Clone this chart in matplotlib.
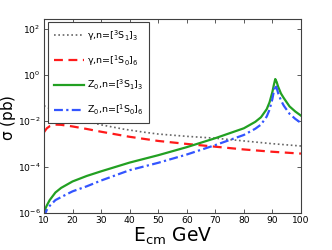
import numpy as np
import matplotlib
matplotlib.use("Agg")
import matplotlib.pyplot as plt

# energies (GeV) and log10(sigma / pb)
e_gam3 = [10, 15, 20, 25, 30, 38, 45, 50, 60, 70, 80, 90, 100]
lg_gam3 = [-1.35, -1.65, -1.86, -2.04, -2.18, -2.37, -2.50, -2.58, -2.68, -2.76, -2.88, -3.00, -3.10]

e_gam1 = [10, 11, 12, 14, 16, 20, 25, 30, 40, 50, 60, 70, 80, 90, 100]
lg_gam1 = [-2.50, -2.33, -2.24, -2.17, -2.18, -2.25, -2.36, -2.48, -2.70, -2.88, -3.01, -3.13, -3.25, -3.35, -3.43]

e_z = [10, 10.5, 11, 12, 14, 16, 20, 25, 30, 40, 50, 60, 70, 80, 84, 86, 88, 89,
       90, 90.5, 91, 91.5, 92, 93, 94, 96, 98, 100]
lg_z3 = [-6.0, -5.82, -5.68, -5.45, -5.12, -4.92, -4.64, -4.40, -4.20, -3.82, -3.50, -3.15, -2.76, -2.33,
         -2.05, -1.85, -1.50, -1.20, -0.75, -0.45, -0.19, -0.32, -0.52, -0.82, -1.02, -1.38, -1.60, -1.78]
lg_z1 = [-6.2, -6.02, -5.87, -5.70, -5.45, -5.32, -5.07, -4.85, -4.60, -4.15, -3.83, -3.47, -3.06, -2.62,
         -2.35, -2.17, -1.82, -1.52, -1.05, -0.72, -0.45, -0.58, -0.80, -1.12, -1.35, -1.70, -1.92, -2.10]

labels = [r'$\gamma$,n=[$^3$S$_1$]$_3$', r'$\gamma$,n=[$^1$S$_0$]$_6$',
          r'Z$_0$,n=[$^3$S$_1$]$_3$', r'Z$_0$,n=[$^1$S$_0$]$_6$']

plt.rcParams['mathtext.default'] = 'regular'
plt.rcParams['font.family'] = ['DejaVu Sans']

fig = plt.figure(figsize=(3.32, 2.5), dpi=100)
ax = fig.add_axes([0.1325, 0.149, 0.774, 0.777])

ax.plot(e_gam3, 10**np.array(lg_gam3), color='#666666', ls=(0, (1, 1.6)), lw=1.2, label=labels[0])
ax.plot(e_gam1, 10**np.array(lg_gam1), color='#ff1a1a', ls=(0, (4, 2.5)), lw=1.6, label=labels[1])
ax.plot(e_z, 10**np.array(lg_z3), color='#22a022', ls='-', lw=1.6, label=labels[2])
ax.plot(e_z, 10**np.array(lg_z1), color='#3355ff', ls=(0, (4, 1.5, 1, 1.5)), lw=1.6, label=labels[3])

ax.set_yscale('log')
ax.set_xlim(10, 100)
ax.set_ylim(1e-6, 10**2.44)
ax.set_xticks(range(10, 101, 10))
ax.set_yticks([1e-6, 1e-4, 1e-2, 1e0, 1e2])
ax.yaxis.set_minor_locator(matplotlib.ticker.NullLocator())
ax.tick_params(which='both', direction='in', top=True, right=True, labelsize=6.6,
               length=3, width=0.6, color='#404040', pad=2.5)
for s in ax.spines.values():
    s.set_color('#404040')
    s.set_linewidth(0.8)

ax.set_xlabel(r'E$_{cm}$ GeV', fontsize=13.5, labelpad=0)
ax.set_ylabel(r'$\sigma$ (pb)', fontsize=11)
ax.yaxis.set_label_coords(-0.1, 0.49)

leg = ax.legend(loc='upper left', bbox_to_anchor=(0.017, 0.983), fontsize=6.8, handlelength=3.15,
                labelspacing=1.1, borderpad=0.65, handletextpad=0.25, fancybox=False,
                framealpha=1, edgecolor='#404040', borderaxespad=0)
leg.get_frame().set_linewidth(0.8)

fig.savefig('out.png', dpi=100)
